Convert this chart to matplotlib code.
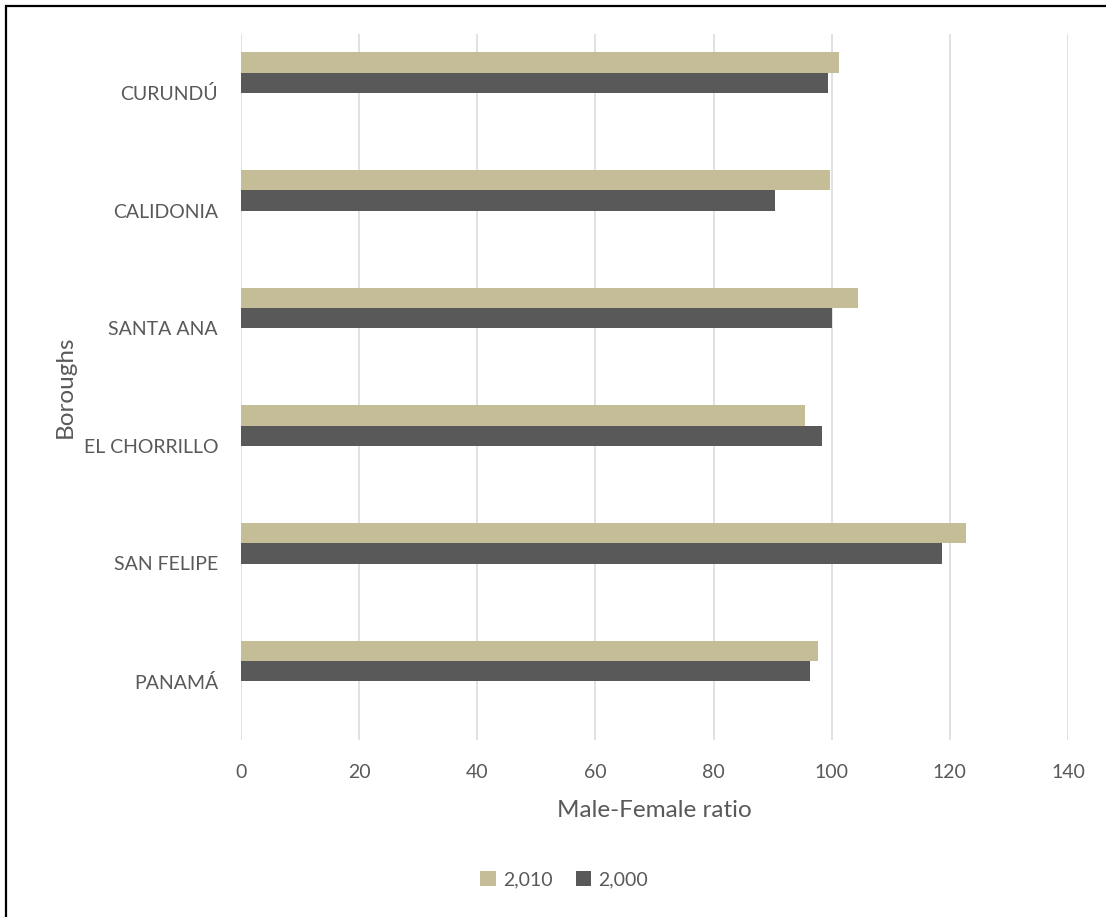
import matplotlib.pyplot as plt
import numpy as np
from matplotlib.patches import Rectangle

# male-female ratio per borough, census 2000 and 2010
boroughs = ['CURUNDÚ', 'CALIDONIA', 'SANTA ANA', 'EL CHORRILLO', 'SAN FELIPE', 'PANAMÁ']
ratio_2010 = [101.3, 99.7, 104.4, 95.5, 122.8, 97.6]
ratio_2000 = [99.4, 90.4, 100.1, 98.4, 118.6, 96.3]
series_labels = ['2,010', '2,000']
xticks = [0, 20, 40, 60, 80, 100, 120, 140]

plt.rcParams['font.family'] = ['Lato', 'DejaVu Sans']
text_color = '#595959'
tan = '#C4BD97'
dark = '#595959'

fig = plt.figure(figsize=(11.06, 9.17), dpi=100)
fig.patch.set_facecolor('white')
ax = fig.add_axes([241 / 1106, 1 - 740 / 917, 827 / 1106, 706 / 917])

y = np.arange(len(boroughs))
h = 0.1717
ax.barh(y - 0.2575, ratio_2010, height=h, color=tan, label=series_labels[0], zorder=3)
ax.barh(y - 0.0857, ratio_2000, height=h, color=dark, label=series_labels[1], zorder=3)

ax.set_xlim(0, 140)
ax.set_ylim(len(boroughs) - 0.5, -0.5)
ax.set_xticks(xticks)
ax.set_yticks(y)
ax.set_yticklabels(boroughs)

ax.grid(axis='x', color='#D9D9D9', linewidth=1.1, zorder=0)
for s in ax.spines.values():
    s.set_visible(False)
ax.tick_params(axis='both', length=0, labelsize=14, labelcolor=text_color)
ax.tick_params(axis='x', pad=17)
ax.tick_params(axis='y', pad=16.5)

ax.set_xlabel('Male-Female ratio', fontsize=17.5, color=text_color, va='top')
ax.xaxis.set_label_coords(0.5, -0.085)
ax.set_ylabel('Boroughs', fontsize=17.5, color=text_color)
ax.yaxis.set_label_coords(-0.2, 0.5)

fig.legend(loc='center', bbox_to_anchor=(564 / 1106, 1 - 880 / 917), ncol=2,
           frameon=False, fontsize=14, labelcolor=text_color,
           handlelength=0.8, handleheight=0.8, handletextpad=0.35,
           columnspacing=1.2)

# outer frame, open on the right and bottom
fig.add_artist(Rectangle((6 / 1106, -0.1), 1.2, 1 - 5.5 / 917 + 0.1,
                         transform=fig.transFigure, fill=False,
                         edgecolor='black', linewidth=1.6))

fig.savefig('out.png', dpi=100)
